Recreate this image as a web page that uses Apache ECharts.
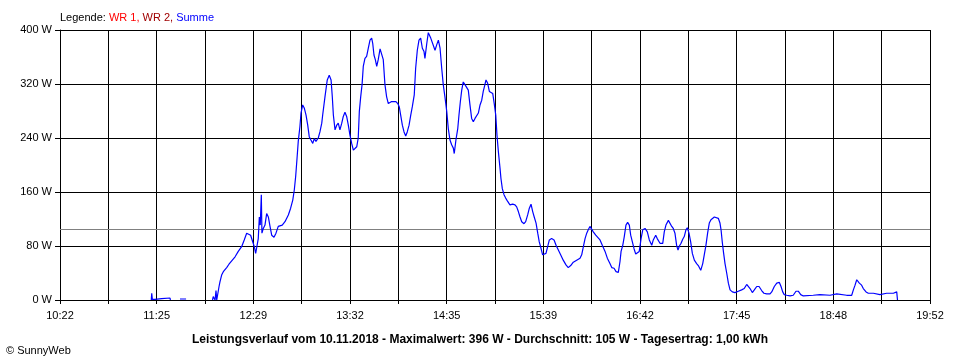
<!DOCTYPE html>
<html><head><meta charset="utf-8">
<script src="https://cdn.jsdelivr.net/npm/echarts@6/dist/echarts.min.js"></script>
<style>html,body{margin:0;padding:0;background:#fff}#c{width:960px;height:360px}</style>
</head><body><div id="c"></div>
<script>
// x values: minutes after 10:22 (axis start); y values: Summe in W ('-' = no data / gap)
const minutes = [59.8,60.1,60.5,62.2,66.6,66.8,72.1,72.3,75,78.6,82.6,90,
99.9,100.4,101.2,101.6,102.2,102.7,103.8,104.2,104.8,105.9,107.0,109.2,110.7,112.5,114.7,116.8,119.0,120.7,122.3,123.4,124.9,126.3,127.3,128.2,129.5,129.9,130.6,131.2,131.9,132.3,133.2,134.3,135.4,136.5,137.6,138.7,140.2,141.5,143.0,145.6,147.4,149.6,151.1,152.5,153.5,154.4,155.3,156.1,157.2,157.9,159.0,160.1,161.2,162.3,163.3,164.4,165.6,166.6,167.7,169.2,170.3,171.5,
172.1,173.6,175.1,176.4,177.6,178.4,179.1,180.2,181.3,182.3,183.4,184.6,185.6,186.7,187.8,188.9,190.0,191.1,192.2,193.3,194.4,195.4,196.1,197.0,197.9,198.7,199.8,200.9,202.0,203.1,204.2,204.9,205.7,206.6,207.5,208.5,209.7,210.8,211.8,212.9,214.0,215.1,216.2,217.3,218.4,220.1,221.3,222.3,223.2,224.3,225.4,226.5,227.5,228.7,229.8,230.8,232.1,233.0,234.1,235.2,236.3,237.4,238.5,239.1,240.3,241.3,242.9,243.9,245.7,246.8,247.9,249.0,250.1,251.1,252.2,253.4,254.4,255.5,256.6,257.7,258.3,259.4,260.6,261.4,262.3,263.2,264.2,265.3,266.5,267.5,268.6,269.7,270.8,271.9,273.0,274.1,275.2,276.3,277.3,278.4,279.1,280.2,281.3,282.4,283.5,284.5,285.5,286.3,287.2,288.3,288.9,289.8,290.9,292.0,293.3,294.8,296.6,298.1,299.2,300.3,301.4,302.5,304.0,305.1,306.4,307.5,308.6,309.7,310.7,311.9,313.0,314.0,315.1,316.2,317.3,318.4,319.5,320.6,322.1,323.7,325.0,326.5,328.0,329.7,331.5,333.0,334.6,336.3,338.5,340.7,341.8,342.9,344.0,345.1,346.1,347.2,348.4,349.4,351.0,352.3,353.8,355.3,357.1,358.6,360.3,361.5,363.0,364.3,365.8,366.9,367.6,368.7,369.7,370.8,371.9,373.0,373.9,375.0,376.1,377.2,378.5,379.5,380.7,381.8,383.3,384.8,386.1,387.7,388.7,390.3,391.3,393.1,394.9,395.9,397.0,398.6,399.7,400.8,401.8,402.9,404.0,404.9,405.8,406.9,408.0,409.0,410.1,411.0,412.1,413.2,414.3,415.6,417.1,418.2,419.8,421.1,422.1,423.2,424.3,425.4,426.5,427.6,428.7,429.8,431.3,432.4,433.1,433.9,434.8,435.7,436.8,437.9,439.0,440.5,442.2,444.4,446.6,448.3,449.9,451.0,452.1,453.6,454.9,456.5,458.0,459.7,461.2,463.0,465.2,466.3,468.0,469.6,471.3,472.4,473.5,474.5,476.1,478.3,480.4,482.2,483.7,485.3,487.0,493.5,494.7,497.9,504.5,508.9,515.4,518.7,519.8,520.9,522.0,522.6,523.7,525.2,526.3,528.1,529.6,532.9,537.2,541.6,546.0,548.2,548.7];
const summeW = [0,10,1,1,2,3,3,0,'-',1.5,1.5,'-',
0,5,5,0,14,0,0,20,27,37,42,48,53,58,64,72,79,89,99,101,96,86,79,69,69,91,123,111,156,99,106,111,128,123,109,96,93,99,109,111,116,126,136,148,163,183,210,235,257,277,289,284,274,259,242,237,232,239,235,240,249,262,
274,301,326,333,326,301,274,252,259,262,252,262,272,278,272,259,244,232,222,221,227,240,279,301,319,346,358,361,373,385,388,380,363,356,346,356,372,370,356,319,301,291,289,294,296,294,291,286,274,259,249,243,249,259,274,286,304,343,370,385,388,373,368,358,380,396,388,389,370,378,385,373,343,319,301,279,254,237,230,225,217,237,254,274,294,311,323,319,321,311,289,269,264,269,269,277,289,296,309,319,326,321,309,311,306,291,274,244,220,195,180,165,156,151,146,141,142,141,138,131,123,116,113,116,126,136,142,131,123,114,99,86,77,67,65,69,79,89,91,89,81,74,67,59,52,48,51,56,59,62,67,79,91,99,104,109,109,101,96,94,89,81,72,62,54,48,47,42,41,57,72,81,94,111,115,111,96,86,76,68,67,72,91,104,106,101,89,81,89,96,91,84,84,101,111,118,117,109,106,99,81,74,80,84,90,94,104,107,99,86,69,59,54,51,44,54,67,81,99,114,119,120,123,121,121,114,104,86,69,54,40,25,15,12,11,13,15,17,23,22,17,11,15,20,20,14,10,9,9,12,20,25,26,20,12,8,7,6,7,13,13,8,6,7,9,8,7,9,7,7,15,22,30,31,25,22,17,12,10,10,8,10,10,12,0];
const timeLabels = ['10:22','11:25','12:29','13:32','14:35','15:39','16:42','17:45','18:48','19:52'];
const averageW = 105;
const legendNames = ['WR 1','WR 2','Summe'];
const titleText = 'Leistungsverlauf vom 10.11.2018 - Maximalwert: 396 W - Durchschnitt: 105 W - Tagesertrag: 1,00 kWh';

const span = 570, steps = 18, step = span / steps;
const data = minutes.map((m, i) => [m, summeW[i]]);
const font = 'Liberation Sans, Arial, sans-serif';
const chart = echarts.init(document.getElementById('c'), null, {renderer: 'canvas'});
chart.setOption({
  animation: false,
  backgroundColor: '#fff',
  textStyle: {fontFamily: font},
  title: [{
    left: 55, top: 7,
    text: '{k|Legende: }{a|' + legendNames[0] + ', }{b|' + legendNames[1] + ', }{c|' + legendNames[2] + '}',
    textStyle: {fontWeight: 'normal', rich: {
      k: {color: '#000', fontSize: 11, fontWeight: 'normal', fontFamily: font},
      a: {color: '#ff0000', fontSize: 11, fontWeight: 'normal', fontFamily: font},
      b: {color: '#a00000', fontSize: 11, fontWeight: 'normal', fontFamily: font},
      c: {color: '#0000ff', fontSize: 11, fontWeight: 'normal', fontFamily: font}
    }}
  }, {
    left: 'center', top: 329,
    text: titleText,
    textStyle: {color: '#000', fontSize: 12, fontWeight: 'bold', fontFamily: font}
  }, {
    left: 1, top: 340,
    text: '© SunnyWeb',
    textStyle: {color: '#000', fontSize: 11, fontWeight: 'normal', fontFamily: font}
  }],
  grid: {left: 60, right: 30, top: 30, bottom: 60, containLabel: false},
  xAxis: {
    type: 'value', min: 0, max: span, interval: step,
    axisLine: {show: true, lineStyle: {color: '#000', width: 1}},
    axisTick: {show: true, length: 4, lineStyle: {color: '#000'}},
    splitLine: {show: true, lineStyle: {color: '#000', width: 1}},
    axisLabel: {
      color: '#000', fontSize: 11, margin: 10, showMinLabel: true, showMaxLabel: true,
      formatter: v => { const i = Math.round(v / step); return i % 2 === 0 ? timeLabels[i / 2] : ''; }
    }
  },
  yAxis: {
    type: 'value', min: 0, max: 400, interval: 80,
    axisLine: {show: true, lineStyle: {color: '#000', width: 1}},
    axisTick: {show: true, length: 5, lineStyle: {color: '#000'}},
    splitLine: {show: true, lineStyle: {color: '#000', width: 1}},
    axisLabel: {color: '#000', fontSize: 11, margin: 8, formatter: v => v + ' W'}
  },
  series: [{
    name: legendNames[2], type: 'line', data: data, showSymbol: false, symbol: 'none',
    connectNulls: false,
    lineStyle: {color: '#0000ff', width: 1.2},
    z: 5,
    markLine: {
      silent: true, symbol: 'none', label: {show: false},
      lineStyle: {color: '#808080', width: 1, type: 'solid'},
      data: [{yAxis: averageW}],
      z: 1
    }
  }]
});
</script></body></html>
